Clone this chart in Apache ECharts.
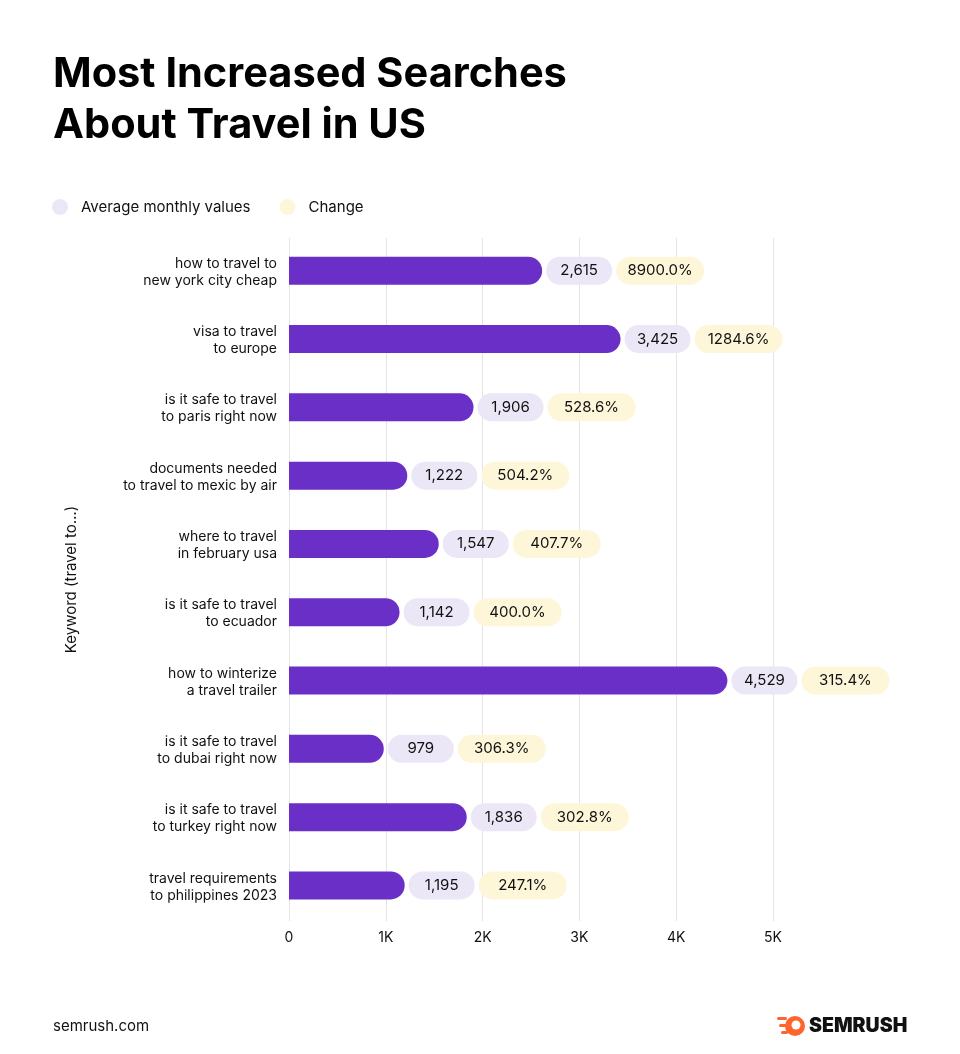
<!DOCTYPE html>
<html>
<head>
<meta charset="utf-8">
<script src="https://cdn.jsdelivr.net/npm/echarts@6/dist/echarts.min.js"></script>
<style>
html, body { margin: 0; padding: 0; background: #fff; }
#main { width: 960px; height: 1054px; }
</style>
</head>
<body>
<div id="main"></div>
<script>
var keywords = [
	'how to travel to\nnew york city cheap',
	'visa to travel\nto europe',
	'is it safe to travel\nto paris right now',
	'documents needed\nto travel to mexic by air',
	'where to travel\nin february usa',
	'is it safe to travel\nto ecuador',
	'how to winterize\na travel trailer',
	'is it safe to travel\nto dubai right now',
	'is it safe to travel\nto turkey right now',
	'travel requirements\nto philippines 2023'
];
var monthlyValues = [2615, 3425, 1906, 1222, 1547, 1142, 4529, 979, 1836, 1195];
var changeLabels = ['8900.0%', '1284.6%', '528.6%', '504.2%', '407.7%', '400.0%', '315.4%', '306.3%', '302.8%', '247.1%'];
var xTicks = [0, 1000, 2000, 3000, 4000, 5000];

var FONT = 'Inter, Lato, sans-serif';
var purple = '#6a2fc6';
var lavender = '#ece7f6';
var cream = '#fdf6d9';

var myChart = echarts.init(document.getElementById('main'));

var option = {
	backgroundColor: '#fff',
	textStyle: { fontFamily: FONT, color: '#000' },
	title: {
		text: 'Most Increased Searches\nAbout Travel in US',
		left: 53, top: 49, padding: 0,
		textStyle: { fontFamily: FONT, fontSize: 41.5, fontWeight: 'bold', color: '#000', lineHeight: 51 }
	},
	legend: {
		left: 52, top: 199, padding: 0,
		icon: 'circle', itemWidth: 16, itemHeight: 16, itemGap: 29,
		textStyle: { fontFamily: FONT, fontSize: 15, color: '#111', padding: [0, 0, 0, 8] },
		data: [
			{ name: 'Average monthly values', itemStyle: { color: lavender } },
			{ name: 'Change', itemStyle: { color: cream } }
		]
	},
	grid: { left: 289, right: 187, top: 238, bottom: 133, containLabel: false },
	xAxis: {
		type: 'value', min: 0, max: 5000, interval: 1000,
		axisLine: { show: false }, axisTick: { show: false },
		splitLine: { show: true, lineStyle: { color: '#e4e4e4', width: 1 } },
		axisLabel: {
			margin: 10, fontSize: 14, color: '#111', fontFamily: FONT,
			formatter: function (v) { return xTicks.indexOf(v) > 0 ? (v / 1000) + 'K' : String(v); }
		}
	},
	yAxis: {
		type: 'category', inverse: true, data: keywords,
		name: 'Keyword (travel to...)', nameLocation: 'middle', nameGap: 210, nameRotate: 90,
		nameTextStyle: { fontFamily: FONT, fontSize: 15, color: '#111' },
		axisLine: { show: false }, axisTick: { show: false },
		axisLabel: { margin: 12, fontSize: 14, lineHeight: 17, color: '#111', fontFamily: FONT, align: 'right' }
	},
	series: [{
		name: 'Average monthly values',
		type: 'bar',
		data: monthlyValues,
		barWidth: 28,
		itemStyle: { color: purple, borderRadius: [0, 14, 14, 0] },
		label: {
			show: true, position: 'right', distance: 4,
			formatter: function (p) {
				return '{a|' + p.value.toLocaleString('en-US') + '}{g|}{b|' + changeLabels[p.dataIndex] + '}';
			},
			rich: {
				a: { backgroundColor: lavender, borderRadius: 14, width: 66, height: 28, align: 'center', fontSize: 15, color: '#111', fontFamily: FONT },
				g: { width: 4, height: 28 },
				b: { backgroundColor: cream, borderRadius: 14, width: 88, height: 28, align: 'center', fontSize: 15, color: '#111', fontFamily: FONT }
			}
		}
	}, {
		name: 'Change', type: 'bar', data: [], itemStyle: { color: cream }
	}],
	graphic: [
		{ type: 'text', left: 53, top: 1019, style: { text: 'semrush.com', fontFamily: FONT, fontSize: 15, fill: '#111' } },
		{
			type: 'group', left: 777, top: 1016,
			children: [
				{ type: 'circle', shape: { cx: 18, cy: 11, r: 10 }, style: { fill: '#ff642d' } },
				{ type: 'circle', shape: { cx: 19, cy: 10, r: 4.5 }, style: { fill: '#fff' } },
				{ type: 'rect', shape: { x: 0, y: 2, width: 10, height: 3, r: 1.5 }, style: { fill: '#ff642d' } },
				{ type: 'rect', shape: { x: 2, y: 9, width: 8, height: 3, r: 1.5 }, style: { fill: '#ff642d' } },
				{ type: 'rect', shape: { x: 4, y: 16, width: 7, height: 3, r: 1.5 }, style: { fill: '#ff642d' } },
				{ type: 'text', x: 32, y: 1, style: { text: 'SEMRUSH', fontFamily: 'Inter, sans-serif', fontWeight: 900, fontSize: 19.5, fill: '#111' } }
			]
		}
	]
};

myChart.setOption(option);
</script>
</body>
</html>
